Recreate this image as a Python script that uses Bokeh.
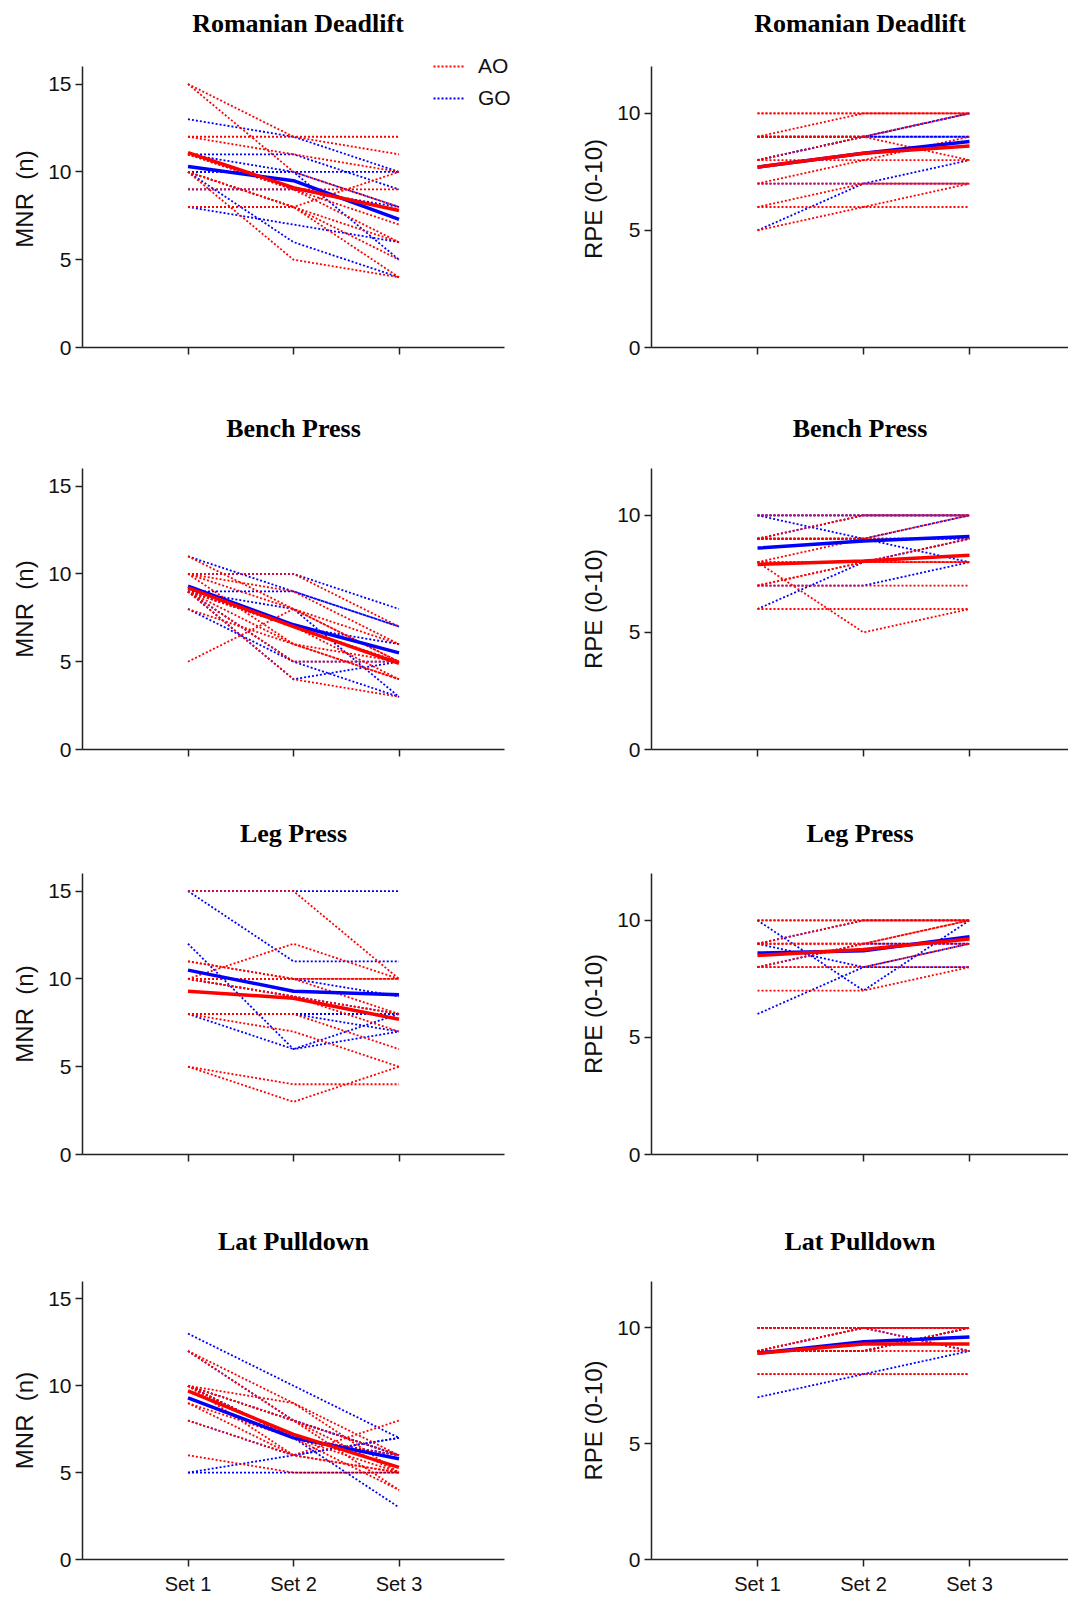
from bokeh.plotting import figure
from bokeh.layouts import column, row
from bokeh.models import Range1d, FixedTicker, Legend, LegendItem, LinearAxis
from bokeh.embed import file_html
from bokeh.resources import INLINE

# ---------------- data ----------------
SET_X = [1, 2, 3]
SET_LABELS = ["Set 1", "Set 2", "Set 3"]
TITLES = ["Romanian Deadlift", "Bench Press", "Leg Press", "Lat Pulldown"]
MNR_TICKS = [0, 5, 10, 15]
RPE_TICKS = [0, 5, 10]

# Romanian Deadlift
RDL_MNR_AO = [[15, 12, 11], [15, 10, 8], [12, 12, 12], [12, 11, 10], [11, 9, 7], [11, 9, 6],
              [10, 8, 6], [10, 8, 5], [10, 5, 4], [9, 9, 9], [8, 8, 10], [10, 8, 4]]
RDL_MNR_GO = [[13, 12, 10], [11, 11, 9], [11, 10, 8], [10, 10, 10], [9, 9, 8], [10, 10, 5],
              [8, 7, 6], [10, 6, 4]]
RDL_MNR_AO_MEAN = [11.1, 9.1, 7.8]
RDL_MNR_GO_MEAN = [10.3, 9.5, 7.3]

RDL_RPE_AO = [[10, 10, 10], [10, 10, 10], [9, 10, 10], [9, 9, 8], [8, 9, 10], [8, 8, 8],
              [7, 8, 9], [7, 7, 7], [6, 7, 7], [6, 6, 6], [5, 6, 7]]
RDL_RPE_GO = [[9, 9, 10], [9, 9, 9], [7, 7, 7], [5, 7, 8], [8, 9, 9], [8, 9, 10]]
RDL_RPE_AO_MEAN = [7.7, 8.3, 8.6]
RDL_RPE_GO_MEAN = [7.7, 8.3, 8.8]

# Bench Press
BP_MNR_AO = [[11, 8, 6], [10, 10, 7], [10, 9, 6], [10, 8, 5], [9, 7, 4], [9, 6, 4], [9, 7, 5],
             [8, 6, 4], [9, 4, 3], [5, 8, 5], [9, 5, 5], [10, 6, 5]]
BP_MNR_GO = [[11, 9, 7], [10, 10, 8], [9, 9, 7], [9, 7, 6], [9, 5, 5], [9, 4, 5], [8, 5, 3], [9, 8, 3]]
BP_MNR_AO_MEAN = [9.2, 7.0, 4.9]
BP_MNR_GO_MEAN = [9.3, 7.1, 5.5]

BP_RPE_AO = [[10, 10, 10], [9, 10, 10], [9, 9, 9], [8, 9, 10], [8, 8, 8], [8, 5, 6], [7, 8, 9],
             [7, 7, 7], [6, 6, 6], [7, 8, 8], [8, 8, 8]]
BP_RPE_GO = [[10, 9, 8], [6, 8, 9], [7, 7, 8], [10, 10, 10], [9, 9, 9], [9, 10, 10], [9, 9, 10],
             [10, 10, 10]]
BP_RPE_AO_MEAN = [7.9, 8.05, 8.3]
BP_RPE_GO_MEAN = [8.6, 8.9, 9.1]

# Leg Press
LP_MNR_AO = [[15, 15, 10], [10, 12, 10], [11, 10, 10], [10, 9, 8], [10, 9, 7], [8, 8, 6], [8, 7, 5],
             [5, 4, 4], [5, 3, 5], [11, 10, 8], [10, 10, 10]]
LP_MNR_GO = [[15, 15, 15], [15, 11, 11], [12, 6, 7], [8, 6, 8], [10, 10, 9], [10, 9, 8],
             [8, 8, 8], [8, 8, 7]]
LP_MNR_AO_MEAN = [9.3, 8.9, 7.7]
LP_MNR_GO_MEAN = [10.5, 9.3, 9.1]

LP_RPE_AO = [[10, 10, 10], [9, 10, 10], [9, 9, 9], [8, 9, 10], [8, 8, 8], [7, 7, 8], [9, 9, 10],
             [8, 8, 9]]
LP_RPE_GO = [[10, 7, 10], [6, 8, 9], [9, 8, 8], [10, 10, 10], [9, 10, 10], [8, 9, 9]]
LP_RPE_AO_MEAN = [8.5, 8.75, 9.2]
LP_RPE_GO_MEAN = [8.6, 8.7, 9.3]

# Lat Pulldown
LAT_MNR_AO = [[12, 9, 5], [12, 8, 4], [10, 9, 6], [10, 8, 6], [10, 7, 5], [10, 8, 5], [10, 7, 6],
              [10, 6, 5], [8, 6, 8], [9, 7, 4], [6, 5, 5], [9, 6, 5]]
LAT_MNR_GO = [[13, 10, 7], [12, 8, 6], [8, 6, 7], [5, 6, 7], [5, 5, 5], [10, 7, 6], [10, 7, 3],
              [10, 7, 6], [10, 8, 6]]
LAT_MNR_AO_MEAN = [9.7, 7.2, 5.3]
LAT_MNR_GO_MEAN = [9.3, 7.0, 5.8]

LAT_RPE_AO = [[10, 10, 10], [9, 10, 10], [9, 9, 9], [9, 9, 10], [8, 8, 8], [9, 10, 9],
              [10, 10, 10], [8, 8, 8]]
LAT_RPE_GO = [[7, 8, 9], [9, 10, 9], [10, 10, 10], [10, 10, 10], [9, 9, 10], [9, 9, 10]]
LAT_RPE_AO_MEAN = [8.9, 9.3, 9.3]
LAT_RPE_GO_MEAN = [8.9, 9.4, 9.6]

# ---------------- style ----------------
RED = "#ff0000"
BLUE = "#0000ff"
AXIS = "#222222"
SANS = "Liberation Sans"
SERIF = "Liberation Serif"
FRAME_H = 281
EXT_TOP = [16, 0, 0, 0]          # row 1 frame extended upward so the legend is not clipped
EXT_RIGHT = 9                    # legend panel frame extended to the right
TOPS = [50, 64, 64, 64]
BOTTOMS = [57, 60, 63, 35]
TITLE_GAP = [29, 26, 26, 26]     # distance from nominal frame top to title text bottom


def make_panel(r, left, ao, go, ao_mean, go_mean, legend=False):
    ext_top = EXT_TOP[r]
    ext_right = EXT_RIGHT if legend else 0
    if left:
        bl, fw, br = 82, 422, 30
        xmax = 4.0
        ymax, yticks, ylabel = 16, MNR_TICKS, "MNR\u00a0\u00a0(n)"
    else:
        bl, fw, br = 117, 417, 0
        xmax = 417 / 106.0
        ymax, yticks, ylabel = 12, RPE_TICKS, "RPE (0-10)"
    top, bottom = TOPS[r], BOTTOMS[r]
    fh = FRAME_H + ext_top
    xr = Range1d(0, xmax * (fw + ext_right) / fw)
    yr = Range1d(0, ymax * fh / FRAME_H)
    p = figure(width=bl + fw + br, height=top + fh + bottom,
               x_range=xr, y_range=yr,
               output_backend="svg", toolbar_location=None,
               min_border_left=bl, min_border_right=br - ext_right,
               min_border_top=top, min_border_bottom=bottom)
    p.outline_line_color = None
    p.xgrid.visible = False
    p.ygrid.visible = False
    p.background_fill_color = None
    p.border_fill_color = None

    # panel title drawn as the label of an invisible top axis (exact standoff control)
    tax = LinearAxis(ticker=FixedTicker(ticks=[]), axis_line_color=None,
                     major_tick_line_color=None, minor_tick_line_color=None,
                     major_tick_out=0, major_tick_in=0, minor_tick_out=0, minor_tick_in=0,
                     major_label_standoff=0, major_label_text_color=None,
                     axis_label=TITLES[r], axis_label_standoff=TITLE_GAP[r] - ext_top,
                     axis_label_text_font=SERIF, axis_label_text_font_style="bold",
                     axis_label_text_font_size="26px", axis_label_text_color="#000000")
    p.add_layout(tax, "above")

    xax = p.below[0]
    yax = p.left[0]
    for ax in (xax, yax):
        ax.axis_line_color = AXIS
        ax.axis_line_width = 1.5
        ax.major_tick_line_color = AXIS
        ax.major_tick_line_width = 1.5
        ax.major_tick_out = 7
        ax.major_tick_in = 0
        ax.minor_tick_line_color = None
        ax.major_label_text_font = SANS
        ax.major_label_text_color = "#111111"

    xax.bounds = (0, xmax)
    yax.bounds = (0, ymax)

    xax.ticker = FixedTicker(ticks=SET_X)
    xax.major_label_overrides = {x: lab for x, lab in zip(SET_X, SET_LABELS)}
    xax.major_label_standoff = 6
    xax.major_label_text_font_size = "20px"
    if r != 3:
        xax.major_label_text_color = None

    yax.ticker = FixedTicker(ticks=yticks)
    yax.major_label_standoff = 4
    yax.major_label_text_font_size = "21px"
    yax.axis_label = ylabel
    yax.axis_label_text_font = SANS
    yax.axis_label_text_font_size = "24px"
    yax.axis_label_text_font_style = "normal"
    yax.axis_label_text_color = "#111111"
    yax.axis_label_standoff = 7

    go_r = []
    for vals in go:
        go_r.append(p.line(SET_X, vals, line_color=BLUE, line_width=1.8, line_dash="2 2"))
    ao_r = []
    for vals in ao:
        ao_r.append(p.line(SET_X, vals, line_color=RED, line_width=1.8, line_dash="2 2"))
    p.line(SET_X, go_mean, line_color=BLUE, line_width=3.5)
    p.line(SET_X, ao_mean, line_color=RED, line_width=3.5)

    if legend:
        leg = Legend(items=[LegendItem(label="AO", renderers=[ao_r[0]]),
                            LegendItem(label="GO", renderers=[go_r[0]])],
                     location=(351, 237), orientation="vertical",
                     glyph_width=31, glyph_height=22, label_standoff=14,
                     spacing=8, padding=0, margin=0,
                     border_line_color=None, background_fill_alpha=0,
                     label_text_font=SANS, label_text_font_size="21px",
                     label_text_color="#111111", label_height=22)
        p.add_layout(leg)
    return p


panels = [
    (RDL_MNR_AO, RDL_MNR_GO, RDL_MNR_AO_MEAN, RDL_MNR_GO_MEAN,
     RDL_RPE_AO, RDL_RPE_GO, RDL_RPE_AO_MEAN, RDL_RPE_GO_MEAN),
    (BP_MNR_AO, BP_MNR_GO, BP_MNR_AO_MEAN, BP_MNR_GO_MEAN,
     BP_RPE_AO, BP_RPE_GO, BP_RPE_AO_MEAN, BP_RPE_GO_MEAN),
    (LP_MNR_AO, LP_MNR_GO, LP_MNR_AO_MEAN, LP_MNR_GO_MEAN,
     LP_RPE_AO, LP_RPE_GO, LP_RPE_AO_MEAN, LP_RPE_GO_MEAN),
    (LAT_MNR_AO, LAT_MNR_GO, LAT_MNR_AO_MEAN, LAT_MNR_GO_MEAN,
     LAT_RPE_AO, LAT_RPE_GO, LAT_RPE_AO_MEAN, LAT_RPE_GO_MEAN),
]

rows = []
for r, d in enumerate(panels):
    pl = make_panel(r, True, d[0], d[1], d[2], d[3], legend=(r == 0))
    pr = make_panel(r, False, d[4], d[5], d[6], d[7])
    rows.append(row(pl, pr))

layout = column(*rows)
open("out.html", "w").write(file_html(layout, INLINE, title="MNR and RPE"))
